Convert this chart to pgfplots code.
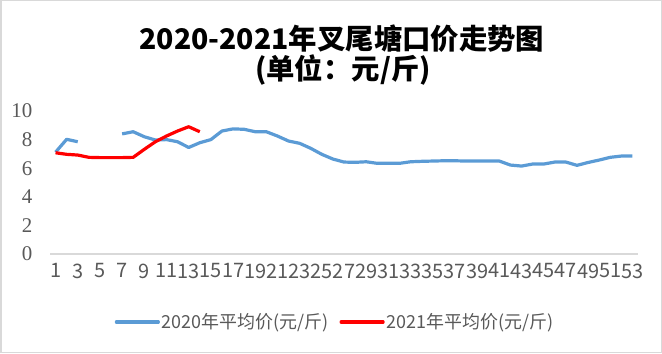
\documentclass[border=0pt]{standalone}
\usepackage{fontspec}
\setmainfont{Noto Sans CJK SC}
\newfontfamily\serifnum{Liberation Serif}
\usepackage{pgfplots}
\pgfplotsset{compat=1.18}
\definecolor{sblue}{HTML}{5B9BD5}
\definecolor{sred}{HTML}{FF0000}
\definecolor{bordergray}{HTML}{D9D9D9}
\definecolor{ticktext}{HTML}{595959}
\begin{document}
\begin{tikzpicture}[x=1bp,y=1bp]
\draw[color=bordergray, line width=1.5bp] (0.75,0.75) rectangle (661.25,352.25);
\node[font=\bfseries\fontsize{28.5}{31}\selectfont] at (342,314) {2020-2021年叉尾塘口价走势图};
\node[font=\bfseries\fontsize{28.5}{31}\selectfont] at (343,283) {(单位：元/斤)};
\begin{axis}[
  at={(50bp,99bp)}, anchor=south west,
  scale only axis, width=588bp, height=143bp,
  xmin=0.5, xmax=53.5, ymin=0, ymax=10,
  xtick={1,3,...,53}, ytick={0,2,...,10},
  axis x line=bottom, axis y line=left,
  x axis line style={color=bordergray, line width=1.2bp, -},
  y axis line style={draw=none},
  tick style={draw=none},
  /pgf/number format/assume math mode=true,
  xticklabel style={font=\fontsize{20}{22}\selectfont, text=ticktext, yshift=-4bp, inner xsep=0pt},
  yticklabel style={font=\serifnum\fontsize{21}{23}\selectfont, text=ticktext, xshift=-12bp},
  unbounded coords=jump,
  legend columns=2,
  legend style={draw=none, at={(0.4847,-0.4755)}, anchor=center,
    font=\fontsize{18}{20}\selectfont, text=ticktext,
    /tikz/every even column/.append style={column sep=9bp}},
  legend image code/.code={\draw[#1, line cap=round] (0bp,0bp) -- (42bp,0bp);},
]
\addplot[color=sblue, line width=3.2bp, line join=round] coordinates {
(1,7.12) (2,8.02) (3,7.85) (4,nan) (5,nan) (6,nan) (7,8.4) (8,8.55) (9,8.2) (10,7.97)
(11,8.0) (12,7.85) (13,7.45) (14,7.78) (15,8.0) (16,8.6) (17,8.75) (18,8.72) (19,8.55) (20,8.55)
(21,8.25) (22,7.9) (23,7.74) (24,7.39) (25,6.97) (26,6.64) (27,6.43) (28,6.41) (29,6.45) (30,6.34)
(31,6.34) (32,6.34) (33,6.45) (34,6.48) (35,6.5) (36,6.52) (37,6.52) (38,6.5) (39,6.5) (40,6.5)
(41,6.5) (42,6.22) (43,6.15) (44,6.29) (45,6.29) (46,6.43) (47,6.43) (48,6.2) (49,6.4) (50,6.57)
(51,6.76) (52,6.85) (53,6.85)
};
\addlegendentry{2020年平均价(元/斤)}
\addplot[color=sred, line width=3.2bp, line join=round] coordinates {
(1,7.08) (2,6.97) (3,6.92) (4,6.76) (5,6.74) (6,6.74) (7,6.74) (8,6.76) (9,7.32) (10,7.85)
(11,8.25) (12,8.6) (13,8.9) (14,8.55)
};
\addlegendentry{2021年平均价(元/斤)}
\end{axis}
\end{tikzpicture}
\end{document}
